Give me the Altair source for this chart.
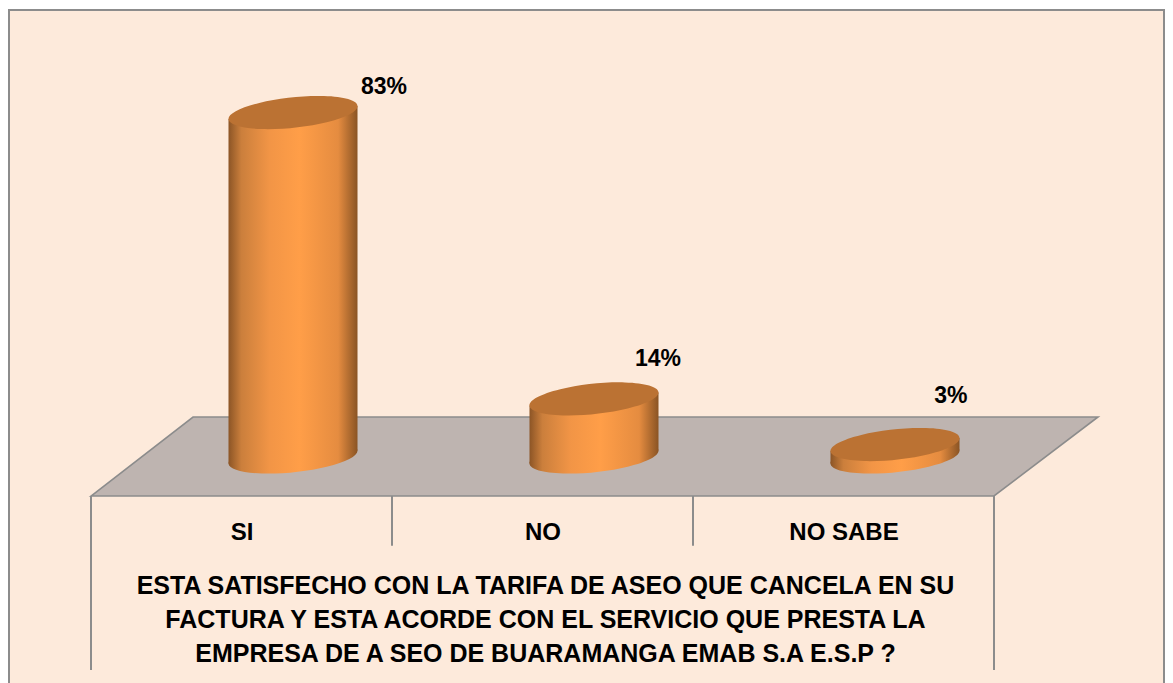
import math
import altair as alt
import pandas as pd

# chart values
categories = ["SI", "NO", "NO SABE"]
percent = [83, 14, 3]
percent_labels = ["83%", "14%", "3%"]
title_lines = [
    "ESTA SATISFECHO CON LA TARIFA  DE ASEO QUE  CANCELA  EN SU",
    "FACTURA  Y ESTA  ACORDE  CON EL  SERVICIO QUE PRESTA LA",
    "EMPRESA DE A SEO DE  BUARAMANGA EMAB S.A E.S.P ?",
]
# label anchors, in category units and percent units
label_pos = [0.9734, 1.8837, 2.857]
label_height = [89.2, 23.7, 14.7]

# scene geometry, in category units and percent units
DEPTH = 0.1711
HALF = 0.2143
TILT = 1.57
floor_x = [0.0, 0.339, 3.0, 3.3455]
floor_top = [-9.4, 9.64, 9.64, 9.64]
floor_bottom = [-9.4, -9.4, -9.4, 9.64]
divider_x = [0, 1, 2, 3]
divider_end = [-51.3, -21.4, -21.4, -51.3]

BG = "#FDEADB"
LINE = "#8C8C8C"
FONT = "Liberation Sans"
W, H = 1157, 675

x_scale = alt.Scale(domain=[-83 / 301, 1074 / 301], range=[0, W], nice=False, zero=False)
y_scale = alt.Scale(domain=[-226 / 4.15, 449 / 4.15], range=[H, 0], nice=False, zero=False)

gradient = alt.Gradient(
    gradient="linear", x1=0, x2=1, y1=0, y2=0,
    stops=[
        alt.GradientStop(offset=0, color="#8C5526"),
        alt.GradientStop(offset=0.1, color="#CB7F3C"),
        alt.GradientStop(offset=0.32, color="#F29546"),
        alt.GradientStop(offset=0.55, color="#FF9E48"),
        alt.GradientStop(offset=0.85, color="#E58C40"),
        alt.GradientStop(offset=1, color="#8A5424"),
    ],
)

# tilted ellipse, unit width
A, B, C = 1.0, 0.0655, -0.1
s = math.sqrt((A - B) ** 2 + 4 * C * C)
a = math.sqrt((A + B + s) / 2)
b = math.sqrt((A + B - s) / 2)
phi = 0.5 * math.atan2(2 * C, A - B)
ex, ey = a * math.cos(phi), a * math.sin(phi)
rot = math.degrees(phi)
ellipse = (
    f"M {-ex:.4f} {-ey:.4f} A {a:.4f} {b:.4f} {rot:.3f} 1 1 {ex:.4f} {ey:.4f} "
    f"A {a:.4f} {b:.4f} {rot:.3f} 1 1 {-ex:.4f} {-ey:.4f} Z"
)
ELLIPSE_SIZE = 129 ** 2

centers = [i + 0.5 + DEPTH for i in range(3)]
main = pd.DataFrame({"cat": categories, "u": centers, "v": percent,
                     "zero": [0, 0, 0], "label": percent_labels,
                     "lu": label_pos, "lv": label_height})

side_rows = []
for c, u, v in zip(categories, centers, percent):
    side_rows.append({"cat": c, "u": u - HALF, "top": v - TILT, "bot": -TILT})
    side_rows.append({"cat": c, "u": u + HALF, "top": v + TILT, "bot": TILT})
side = pd.DataFrame(side_rows)

floor = pd.DataFrame({"u": floor_x, "top": floor_top, "bot": floor_bottom})
dividers = pd.DataFrame({"u": divider_x, "start": [-9.4] * 4, "end": divider_end})
panel = pd.DataFrame({"u": [-82 / 301], "u2": [1073 / 301],
                      "v": [447 / 4.15], "v2": [-240 / 4.15]})

x_axis = alt.Axis(
    values=[0.5, 1.5, 2.5],
    labelExpr="['SI','NO','NO SABE'][floor(datum.value)]",
    orient="bottom", offset=-187, domain=False, ticks=False, grid=False, zindex=1,
    labelFont=FONT, labelFontSize=24, labelFontWeight="bold", labelColor="#000000",
    labelPadding=24, labelBaseline="top",
    title=title_lines, titleFont=FONT, titleFontSize=25, titleFontWeight="bold",
    titleColor="#000000", titleLineHeight=34, titleX=537, titleY=97,
    titleAlign="center", titleBaseline="alphabetic",
)
X = alt.X("u:Q", scale=x_scale, axis=x_axis)
Y = alt.Y("v:Q", scale=y_scale, axis=None)

frame = alt.Chart(panel).mark_rect(
    fill=BG, stroke=LINE, strokeWidth=2
).encode(x=X, x2="u2:Q", y=Y, y2="v2:Q")

floor_layer = alt.Chart(floor).mark_area(
    fill="#BEB4B0", stroke=LINE, strokeWidth=1.6, interpolate="linear"
).encode(x=X, y=alt.Y("top:Q", scale=y_scale, axis=None), y2="bot:Q")

divider_layer = alt.Chart(dividers).mark_rule(color=LINE, strokeWidth=2).encode(
    x=X, y=alt.Y("start:Q", scale=y_scale, axis=None), y2="end:Q"
)

bottoms = alt.Chart(main).mark_point(
    shape=ellipse, size=ELLIPSE_SIZE, filled=True, opacity=1, fill=gradient
).encode(x=X, y=alt.Y("zero:Q", scale=y_scale, axis=None))

sides = alt.Chart(side).mark_area(fill=gradient, interpolate="linear").encode(
    x=X, y=alt.Y("top:Q", scale=y_scale, axis=None), y2="bot:Q", detail="cat:N"
)

tops = alt.Chart(main).mark_point(
    shape=ellipse, size=ELLIPSE_SIZE, filled=True, opacity=1, fill="#BB7233"
).encode(x=X, y=Y)

labels = alt.Chart(main).mark_text(
    font=FONT, fontSize=23, fontWeight="bold", color="#000000",
    align="center", baseline="middle"
).encode(x=alt.X("lu:Q", scale=x_scale, axis=x_axis),
         y=alt.Y("lv:Q", scale=y_scale, axis=None), text="label:N")

chart = alt.layer(
    frame, floor_layer, divider_layer, bottoms, sides, tops, labels
).properties(
    width=W, height=H, padding=0,
    autosize=alt.AutoSizeParams(type="none"),
).configure_view(stroke=None)

chart.save("out.html", embed_options={"renderer": "svg", "actions": False})
